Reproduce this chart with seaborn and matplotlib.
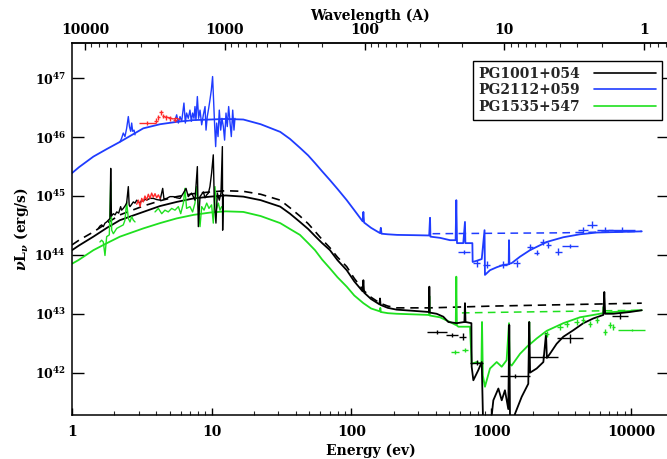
import numpy as np
import matplotlib
matplotlib.use("Agg")
import matplotlib.pyplot as plt
import matplotlib.ticker as mticker
from matplotlib.lines import Line2D
import seaborn as sns

# ---------------- data (log10 E [eV], log10 nuL_nu [erg/s]) ----------------
names = ["PG1001+054", "PG2112+059", "PG1535+547"]

# PG2112+059 (blue) model
bl_model_logE = [0.000, 0.050, 0.153, 0.250, 0.343, 0.510, 0.630, 0.749, 0.870, 0.990, 1.100, 1.226,
                 1.350, 1.490, 1.560, 1.631, 1.690, 1.739, 1.790, 1.846, 1.900, 1.966, 2.020,
                 2.080, 2.085, 2.090, 2.140, 2.204, 2.210, 2.215, 2.260, 2.326, 2.450, 2.556, 2.562,
                 2.565, 2.633, 2.705, 2.745, 2.750, 2.755, 2.800, 2.812, 2.815, 2.865, 2.867, 2.896,
                 2.932, 2.952, 2.955, 2.991, 3.039, 3.086, 3.125, 3.127, 3.130, 3.146, 3.206, 3.277,
                 3.397, 3.516, 3.635, 3.755, 3.921, 4.077]
bl_model_logL = [45.39, 45.49, 45.67, 45.80, 45.92, 46.15, 46.22, 46.26, 46.29, 46.30, 46.31, 46.30,
                 46.22, 46.09, 45.97, 45.82, 45.69, 45.56, 45.42, 45.27, 45.12, 44.93, 44.76,
                 44.57, 44.73, 44.55, 44.46, 44.37, 44.46, 44.36, 44.35, 44.34, 44.335, 44.33, 44.63,
                 44.31, 44.29, 44.25, 44.25, 44.93, 44.20, 44.20, 44.56, 44.20, 44.20, 43.88, 43.90,
                 43.93, 44.42, 43.66, 43.74, 43.79, 43.83, 43.84, 44.25, 43.85, 43.86, 43.97, 44.08,
                 44.22, 44.30, 44.35, 44.38, 44.39, 44.40]
bl_dash_logE = [2.58, 3.50, 4.077]
bl_dash_logL = [44.36, 44.375, 44.40]

# PG1001+054 (black) model
bk_model_logE = [0.000, 0.050, 0.153, 0.250, 0.343, 0.510, 0.630, 0.749, 0.870, 0.990, 1.100, 1.226,
                 1.350, 1.490, 1.560, 1.631, 1.690, 1.739, 1.790, 1.846, 1.900, 1.966, 2.020,
                 2.080, 2.085, 2.090, 2.140, 2.200, 2.204, 2.208, 2.260, 2.323, 2.442, 2.555, 2.557,
                 2.560, 2.609, 2.657, 2.693, 2.753, 2.808, 2.812, 2.816, 2.858, 2.860, 2.872, 2.907,
                 2.932, 2.943, 2.991, 3.015, 3.051, 3.075, 3.098, 3.122, 3.129, 3.135, 3.146, 3.170,
                 3.218, 3.265, 3.272, 3.278, 3.325, 3.373, 3.392, 3.398, 3.420, 3.468, 3.516, 3.587,
                 3.659, 3.730, 3.802, 3.809, 3.815, 3.874, 3.993, 4.077]
bk_model_logL = [44.08, 44.16, 44.31, 44.46, 44.59, 44.73, 44.83, 44.90, 44.96, 44.99, 45.01, 44.99,
                 44.93, 44.82, 44.70, 44.56, 44.44, 44.32, 44.20, 44.08, 43.91, 43.74, 43.55,
                 43.38, 43.57, 43.36, 43.25, 43.16, 43.26, 43.15, 43.10, 43.07, 43.05, 43.03, 43.46,
                 43.02, 43.00, 42.95, 42.86, 42.84, 42.86, 43.18, 42.86, 42.84, 42.10, 41.87, 42.04,
                 42.18, 41.00, 41.00, 41.53, 41.73, 41.53, 41.70, 41.38, 42.81, 41.00, 41.00, 41.30,
                 41.59, 41.81, 42.86, 42.00, 42.07, 42.18, 42.66, 42.25, 42.32, 42.49, 42.61, 42.72,
                 42.84, 42.92, 42.98, 43.37, 43.00, 43.00, 43.03, 43.06]
bk_dash_logE = [0.000, 0.050, 0.153, 0.250, 0.343, 0.510, 0.630, 0.749, 0.870, 0.990, 1.100, 1.226,
                1.350, 1.490, 1.560, 1.631, 1.690, 1.739, 1.790, 1.846, 1.900, 1.966, 2.020, 2.085,
                2.140, 2.204, 2.260, 2.323, 2.557, 3.000, 4.077]
bk_dash_logL = [44.17, 44.25, 44.39, 44.54, 44.68, 44.83, 44.92, 44.99, 45.04, 45.07, 45.09, 45.08,
                45.03, 44.93, 44.80, 44.66, 44.53, 44.40, 44.26, 44.12, 43.96, 43.80, 43.60, 43.40,
                43.28, 43.18, 43.13, 43.10, 43.10, 43.13, 43.18]

# PG1535+547 (green) model
gr_model_logE = [0.000, 0.045, 0.153, 0.250, 0.343, 0.510, 0.630, 0.749, 0.870, 0.990, 1.100, 1.226,
                 1.350, 1.490, 1.560, 1.631, 1.690, 1.739, 1.790, 1.846, 1.900, 1.966, 2.020, 2.085,
                 2.140, 2.204, 2.206, 2.210, 2.260, 2.323, 2.442, 2.555, 2.557, 2.560, 2.633, 2.705,
                 2.746, 2.750, 2.754, 2.765, 2.848, 2.860, 2.896, 2.930, 2.934, 2.940, 2.955, 2.991,
                 3.039, 3.075, 3.110, 3.127, 3.132, 3.146, 3.206, 3.268, 3.272, 3.276, 3.325, 3.397,
                 3.516, 3.635, 3.755, 3.800, 3.804, 3.808, 3.874, 4.077]
gr_model_logL = [43.85, 43.91, 44.08, 44.20, 44.31, 44.45, 44.54, 44.62, 44.68, 44.72, 44.74, 44.73,
                 44.66, 44.54, 44.44, 44.34, 44.20, 44.08, 43.92, 43.77, 43.62, 43.46, 43.31, 43.18,
                 43.09, 43.04, 43.10, 43.03, 43.01, 43.00, 42.99, 42.98, 43.30, 42.97, 42.94, 42.86,
                 42.81, 43.63, 42.80, 42.78, 42.78, 42.15, 42.18, 42.15, 42.86, 41.95, 41.76, 42.07,
                 42.18, 42.10, 42.21, 42.84, 42.15, 42.12, 42.32, 42.47, 42.86, 42.48, 42.58, 42.71,
                 42.84, 42.94, 42.99, 43.01, 43.12, 43.01, 43.03, 43.06]
gr_dash_logE = [2.79, 4.077]
gr_dash_logL = [43.015, 43.06]

# optical/UV spectra
bl_spec1_logE = [0.343, 0.355, 0.367, 0.379, 0.391, 0.403, 0.411, 0.420, 0.427, 0.434, 0.444, 0.451]
bl_spec1_logL = [45.92, 45.98, 46.07, 46.01, 46.15, 46.35, 46.18, 46.10, 46.24, 46.10, 46.12, 46.04]
bl_spec2_logE = [0.737, 0.749, 0.761, 0.773, 0.785, 0.801, 0.811, 0.820, 0.832, 0.844, 0.854, 0.863,
                 0.873, 0.880, 0.887, 0.897, 0.906, 0.916, 0.928, 0.940, 0.952, 0.959, 0.968, 0.978,
                 0.987, 0.997, 1.006, 1.014, 1.021, 1.028, 1.035, 1.045, 1.054, 1.064, 1.073, 1.083,
                 1.092, 1.102, 1.111, 1.121, 1.131, 1.140, 1.150, 1.159, 1.166]
bl_spec2_logL = [46.29, 46.38, 46.24, 46.35, 46.27, 46.58, 46.24, 46.41, 46.32, 46.46, 46.27, 46.41,
                 46.32, 46.52, 46.29, 46.69, 46.32, 46.46, 46.21, 46.38, 46.52, 46.12, 46.35, 46.49,
                 46.63, 46.80, 47.03, 46.58, 46.18, 45.84, 46.24, 46.01, 46.46, 46.12, 46.32, 46.18,
                 45.95, 46.41, 46.18, 46.52, 46.24, 46.01, 46.46, 46.12, 46.32]
bk_spec_logE = [0.188, 0.200, 0.212, 0.224, 0.236, 0.248, 0.260, 0.272, 0.277, 0.282, 0.296, 0.308,
                0.320, 0.334, 0.348, 0.355, 0.367, 0.379, 0.391, 0.403, 0.409, 0.415, 0.427, 0.439,
                0.451, 0.463, 0.475, 0.487, 0.499, 0.510, 0.522, 0.534, 0.558, 0.582, 0.606, 0.630,
                0.649, 0.658, 0.677, 0.701, 0.725, 0.749, 0.773, 0.797, 0.816, 0.832, 0.856, 0.880,
                0.897, 0.904, 0.916, 0.928, 0.940, 0.952, 0.964, 0.976, 0.987, 0.999, 1.011, 1.018,
                1.030, 1.040, 1.054, 1.066, 1.076, 1.078, 1.083]
bk_spec_logL = [44.45, 44.49, 44.51, 44.48, 44.54, 44.56, 44.59, 44.62, 45.47, 44.66, 44.70, 44.68,
                44.73, 44.71, 44.82, 44.76, 44.79, 44.83, 44.88, 45.16, 44.85, 44.82, 44.86, 44.90,
                44.88, 44.93, 44.90, 44.88, 44.93, 44.91, 44.95, 44.93, 44.96, 44.96, 44.94, 44.93,
                45.13, 44.95, 44.96, 44.99, 44.99, 44.97, 44.96, 45.05, 45.13, 44.99, 45.05, 44.93,
                45.50, 44.48, 44.99, 45.03, 45.07, 44.97, 45.02, 45.05, 45.16, 45.39, 45.70, 44.93,
                44.54, 45.05, 44.93, 45.05, 45.84, 44.42, 45.02]
rd_spec_logE = [0.463, 0.475, 0.487, 0.499, 0.510, 0.522, 0.534, 0.546, 0.558, 0.570, 0.582, 0.594,
                0.606, 0.618, 0.630]
rd_spec_logL = [44.86, 44.93, 44.82, 44.96, 44.90, 45.00, 44.93, 45.03, 44.96, 45.05, 44.98, 45.04,
                44.97, 45.02, 44.96]
gr_spec1_logE = [0.200, 0.212, 0.224, 0.236, 0.248, 0.267, 0.277, 0.284, 0.296, 0.320, 0.343, 0.367,
                 0.379, 0.391, 0.403, 0.415, 0.427, 0.439, 0.451]
gr_spec1_logL = [44.22, 44.25, 44.22, 43.99, 44.31, 44.34, 45.24, 44.42, 44.36, 44.45, 44.48, 44.51,
                 44.59, 44.90, 44.62, 44.56, 44.65, 44.59, 44.56]
gr_spec2_logE = [0.594, 0.618, 0.642, 0.665, 0.689, 0.713, 0.737, 0.761, 0.778, 0.797, 0.808, 0.820,
                 0.844, 0.863, 0.880, 0.892, 0.904, 0.916, 0.928, 0.945, 0.964, 0.980, 0.999, 1.011,
                 1.023, 1.035, 1.047, 1.059, 1.071, 1.083]
gr_spec2_logL = [44.73, 44.79, 44.70, 44.76, 44.73, 44.79, 44.76, 44.82, 44.70, 44.88, 45.13, 44.79,
                 44.82, 44.73, 44.88, 45.16, 44.82, 44.48, 44.82, 44.76, 44.88, 44.79, 44.85, 44.54,
                 45.16, 44.79, 44.88, 44.76, 44.82, 44.79]
rd_line_logE = [0.673, 0.700, 0.720, 0.750, 0.773]
rd_line_logL = [46.34, 46.33, 46.31, 46.32, 46.30]

# data points with error bars: logE, logL, half-width (dex) in E, half-height (dex) in L
rd_pts_logE = [0.539, 0.601, 0.618, 0.637, 0.654, 0.673, 0.701, 0.737]
rd_pts_logL = [46.24, 46.28, 46.34, 46.42, 46.36, 46.34, 46.32, 46.30]
rd_pts_dE = [0.060, 0.012, 0.012, 0.012, 0.012, 0.012, 0.012, 0.012]
rd_pts_dL = [0.03, 0.04, 0.04, 0.04, 0.04, 0.04, 0.04, 0.04]

bl_pts_logE = [2.808, 2.896, 2.967, 3.086, 3.182, 3.277, 3.325, 3.373, 3.408, 3.480, 3.564, 3.659,
               3.719, 3.814, 3.933]
bl_pts_logL = [44.05, 43.86, 43.83, 43.83, 43.86, 44.14, 44.04, 44.22, 44.17, 44.05, 44.15, 44.42,
               44.51, 44.43, 44.43]
bl_pts_dE = [0.043, 0.024, 0.024, 0.029, 0.024, 0.019, 0.019, 0.024, 0.019, 0.024, 0.060, 0.036,
             0.036, 0.060, 0.095]
bl_pts_dL = [0.04, 0.06, 0.06, 0.06, 0.06, 0.05, 0.05, 0.05, 0.05, 0.06, 0.04, 0.05, 0.06, 0.04, 0.04]

bk_pts_logE = [2.609, 2.717, 2.796, 2.896, 3.170, 3.373, 3.564, 3.921]
bk_pts_logL = [42.69, 42.64, 42.61, 42.17, 41.94, 42.27, 42.58, 42.96]
bk_pts_dE = [0.072, 0.043, 0.024, 0.048, 0.107, 0.107, 0.095, 0.060]
bk_pts_dL = [0.04, 0.04, 0.06, 0.04, 0.03, 0.03, 0.08, 0.05]

gr_pts_logE = [2.741, 2.812, 3.397, 3.492, 3.540, 3.611, 3.659, 3.707, 3.755, 3.814, 3.850, 3.874,
               4.005]
gr_pts_logL = [42.35, 42.38, 42.66, 42.78, 42.83, 42.86, 42.89, 42.82, 42.89, 42.69, 42.81, 42.78,
               42.72]
gr_pts_dE = [0.029, 0.024, 0.019, 0.019, 0.019, 0.019, 0.014, 0.014, 0.014, 0.012, 0.012, 0.012,
             0.095]
gr_pts_dL = [0.04, 0.03, 0.05, 0.05, 0.05, 0.05, 0.05, 0.05, 0.05, 0.05, 0.05, 0.05, 0.02]

x_lim_log = (0.0, 4.272)
y_lim_log = (41.28, 47.60)

# ---------------- style ----------------
sns.set_theme(style="ticks")
plt.rcParams["font.family"] = ["DejaVu Serif"]
plt.rcParams["font.weight"] = "bold"
plt.rcParams["mathtext.fontset"] = "dejavuserif"
plt.rcParams["axes.linewidth"] = 1.1

BLUE = "#1f3cff"
GREEN = "#1fe01f"
RED = "#ff2a2a"
BLACK = "#000000"

fig = plt.figure(figsize=(6.67, 4.59), dpi=100)
ax = fig.add_axes([72 / 667, 44 / 459, 597 / 667, 372 / 459])
ax.set_xscale("log")
ax.set_yscale("log")


def P(lx, ly):
    return 10.0 ** np.asarray(lx), 10.0 ** np.asarray(ly)


def line(lx, ly, color, lw=1.2, ls="-", z=2):
    x, y = P(lx, ly)
    sns.lineplot(x=x, y=y, estimator=None, sort=False, color=color, lw=lw,
                 linestyle=ls, ax=ax, zorder=z)


def pts(lx, ly, dx, dy, color):
    x, y = P(lx, ly)
    dx = np.asarray(dx)
    dy = np.asarray(dy)
    xerr = [x - x * 10 ** (-dx), x * 10 ** dx - x]
    yerr = [y - y * 10 ** (-dy), y * 10 ** dy - y]
    ax.errorbar(x, y, xerr=xerr, yerr=yerr, fmt="none", ecolor=color, elinewidth=1.0,
                capsize=0, zorder=4)


DASH = (0, (5, 3.5))
# models
line(bl_model_logE, bl_model_logL, BLUE, 1.3)
line(bl_dash_logE, bl_dash_logL, BLUE, 1.1, DASH)
line(bk_dash_logE, bk_dash_logL, BLACK, 1.2, DASH)
line(gr_model_logE, gr_model_logL, GREEN, 1.3)
line(gr_dash_logE, gr_dash_logL, GREEN, 1.1, DASH)
line(bk_model_logE, bk_model_logL, BLACK, 1.3)

# spectra
line(bl_spec1_logE, bl_spec1_logL, BLUE, 1.0, z=3)
line(bl_spec2_logE, bl_spec2_logL, BLUE, 1.0, z=3)
line(gr_spec1_logE, gr_spec1_logL, GREEN, 1.0, z=3)
line(gr_spec2_logE, gr_spec2_logL, GREEN, 1.0, z=3)
line(bk_spec_logE, bk_spec_logL, BLACK, 1.0, z=3)
line(rd_spec_logE, rd_spec_logL, RED, 1.0, z=3)
line(rd_line_logE, rd_line_logL, RED, 0.9, z=3)

# points
pts(rd_pts_logE, rd_pts_logL, rd_pts_dE, rd_pts_dL, RED)
pts(bl_pts_logE, bl_pts_logL, bl_pts_dE, bl_pts_dL, BLUE)
pts(bk_pts_logE, bk_pts_logL, bk_pts_dE, bk_pts_dL, BLACK)
pts(gr_pts_logE, gr_pts_logL, gr_pts_dE, gr_pts_dL, GREEN)

ax.set_xlim(10 ** x_lim_log[0], 10 ** x_lim_log[1])
ax.set_ylim(10 ** y_lim_log[0], 10 ** y_lim_log[1])

for s in ax.spines.values():
    s.set_visible(True)
    s.set_color("black")
    s.set_linewidth(1.1)

fmt_plain = mticker.FuncFormatter(lambda v, p: f"{v:g}")
ax.xaxis.set_major_locator(mticker.FixedLocator([1, 10, 100, 1000, 10000]))
ax.xaxis.set_minor_locator(mticker.LogLocator(base=10, subs=np.arange(2, 10), numticks=20))
ax.xaxis.set_major_formatter(fmt_plain)
ax.xaxis.set_minor_formatter(mticker.NullFormatter())
ax.yaxis.set_major_locator(mticker.FixedLocator([1e42, 1e43, 1e44, 1e45, 1e46, 1e47]))
ax.yaxis.set_minor_locator(mticker.NullLocator())
ax.yaxis.set_major_formatter(mticker.FuncFormatter(
    lambda v, p: r"$\mathbf{10^{%d}}$" % int(round(np.log10(v)))))

ax.tick_params(axis="x", which="major", direction="in", length=5, width=1.0,
               labelsize=10, pad=7, top=False, bottom=True, colors="black")
ax.tick_params(axis="x", which="minor", direction="in", length=2.8, width=0.8,
               top=False, bottom=True)
ax.tick_params(axis="y", which="major", direction="in", length=8.5, width=1.0,
               labelsize=9, pad=4.5, left=True, right=True, colors="black")

ax.set_xlabel("Energy (ev)", fontsize=10, fontweight="bold", color="black")
ax.xaxis.set_label_coords(0.5, -0.076)
ax.set_ylabel(r"$\nu \mathbf{L}_{\nu}$ (erg/s)", fontsize=10, fontweight="bold", color="black")
ax.yaxis.set_label_coords(-0.068, 0.5)

# top axis: wavelength in Angstrom
HC = 12398.4
sec = ax.secondary_xaxis("top", functions=(lambda e: HC / e, lambda w: HC / w))
sec.xaxis.set_major_locator(mticker.FixedLocator([10000, 1000, 100, 10, 1]))
sec.xaxis.set_minor_locator(mticker.LogLocator(base=10, subs=np.arange(2, 10), numticks=20))
sec.xaxis.set_major_formatter(fmt_plain)
sec.xaxis.set_minor_formatter(mticker.NullFormatter())
sec.tick_params(axis="x", which="major", direction="in", length=5, width=1.0,
                labelsize=10, pad=4.5, colors="black")
sec.tick_params(axis="x", which="minor", direction="in", length=2.8, width=0.8)
sec.set_xlabel("Wavelength (A)", fontsize=10, fontweight="bold", color="black", labelpad=2)

handles = [Line2D([], [], color=BLACK, lw=1.2),
           Line2D([], [], color=BLUE, lw=1.2),
           Line2D([], [], color=GREEN, lw=1.2)]
leg = ax.legend(handles, names, loc="upper right", bbox_to_anchor=(0.988, 0.9516),
                borderaxespad=0, markerfirst=False, handlelength=4.5, handletextpad=1.0,
                borderpad=0.4, labelspacing=0.2, fancybox=False, framealpha=1,
                edgecolor="black", prop={"weight": "bold", "size": 10})
leg.get_frame().set_linewidth(1.0)
leg.set_zorder(10)

fig.savefig("out.png", dpi=100)
